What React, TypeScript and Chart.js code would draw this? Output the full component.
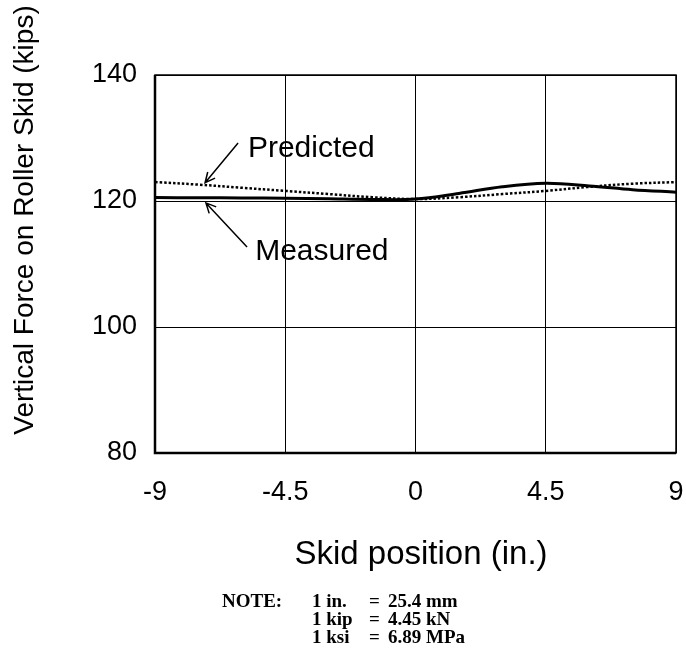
import React, { useEffect, useRef } from 'react';
import { Chart, registerables } from 'chart.js';
Chart.register(...registerables);

const positions = [-9, -7.5, -6, -4.5, -3, -1.5, 0, 1.5, 3, 4.5, 6, 7.5, 9];
const measured = [120.55, 120.52, 120.48, 120.45, 120.35, 120.25, 120.3, 121.2, 122.25, 122.8, 122.4, 121.8, 121.4];
const predicted = [123.0, 122.6, 122.1, 121.6, 121.1, 120.6, 120.3, 120.6, 121.1, 121.6, 122.25, 122.75, 123.0];
const xTickValues = [-9, -4.5, 0, 4.5, 9];
const yTickValues = [80, 100, 120, 140];
const xTitle = 'Skid position (in.)';
const yTitle = 'Vertical Force on Roller Skid (kips)';
const predictedLabel = 'Predicted';
const measuredLabel = 'Measured';
const noteHead = 'NOTE:';
const noteLines = [
  ['1 in.', '=', '25.4 mm'],
  ['1 kip', '=', '4.45 kN'],
  ['1 ksi', '=', '6.89 MPa'],
];

const SANS = '"Liberation Sans", Arial, Helvetica, sans-serif';
const SERIF = '"Liberation Serif", "Times New Roman", serif';

function arrow(ctx: CanvasRenderingContext2D, x0: number, y0: number, x1: number, y1: number) {
  ctx.beginPath();
  ctx.moveTo(x0, y0);
  ctx.lineTo(x1, y1);
  const a = Math.atan2(y1 - y0, x1 - x0);
  const L = 11;
  const s = 0.45;
  ctx.moveTo(x1 - L * Math.cos(a - s), y1 - L * Math.sin(a - s));
  ctx.lineTo(x1, y1);
  ctx.lineTo(x1 - L * Math.cos(a + s), y1 - L * Math.sin(a + s));
  ctx.stroke();
}

const decor = {
  id: 'decor',
  afterDraw(chart: any) {
    const ctx: CanvasRenderingContext2D = chart.ctx;
    const { left, right, top, bottom } = chart.chartArea;
    const xs = chart.scales.x;
    const ys = chart.scales.y;
    ctx.save();
    // frame
    ctx.strokeStyle = '#000';
    ctx.lineWidth = 1.5;
    ctx.strokeRect(left, top, right - left, bottom - top);
    ctx.lineWidth = 2.5;
    ctx.beginPath();
    ctx.moveTo(left, top);
    ctx.lineTo(left, bottom);
    ctx.lineTo(right, bottom);
    ctx.stroke();
    ctx.fillStyle = '#000';
    // x title
    ctx.font = `33px ${SANS}`;
    ctx.textAlign = 'center';
    ctx.textBaseline = 'alphabetic';
    ctx.fillText(xTitle, 421, 564);
    // y title
    ctx.save();
    ctx.translate(33, 220);
    ctx.rotate(-Math.PI / 2);
    ctx.font = `28px ${SANS}`;
    ctx.fillText(yTitle, 0, 0);
    ctx.restore();
    // annotations
    ctx.font = `30px ${SANS}`;
    ctx.textAlign = 'left';
    ctx.fillText(predictedLabel, xs.getPixelForValue(-5.79), ys.getPixelForValue(127.0));
    ctx.fillText(measuredLabel, xs.getPixelForValue(-5.54), ys.getPixelForValue(110.6));
    ctx.lineWidth = 1.5;
    arrow(ctx, xs.getPixelForValue(-6.13), ys.getPixelForValue(129.2), xs.getPixelForValue(-7.27), ys.getPixelForValue(122.9));
    arrow(ctx, xs.getPixelForValue(-5.82), ys.getPixelForValue(112.7), xs.getPixelForValue(-7.24), ys.getPixelForValue(119.7));
    // note
    ctx.font = `bold 19px ${SERIF}`;
    ctx.textAlign = 'left';
    ctx.fillText(noteHead, 222, 607);
    noteLines.forEach((row, i) => {
      const y = 607 + i * 18;
      ctx.fillText(row[0], 312, y);
      ctx.fillText(row[1], 369, y);
      ctx.fillText(row[2], 388, y);
    });
    ctx.restore();
  },
};

export default function App() {
  const ref = useRef<HTMLCanvasElement>(null);
  useEffect(() => {
    if (!ref.current) return;
    const chart = new Chart(ref.current, {
      type: 'line',
      data: {
        datasets: [
          {
            label: measuredLabel,
            data: positions.map((x, i) => ({ x, y: measured[i] })),
            borderColor: '#000',
            borderWidth: 3,
            pointRadius: 0,
            tension: 0.35,
            fill: false,
          },
          {
            label: predictedLabel,
            data: positions.map((x, i) => ({ x, y: predicted[i] })),
            borderColor: '#000',
            borderWidth: 2.5,
            borderDash: [2.5, 2],
            pointRadius: 0,
            tension: 0.35,
            fill: false,
          },
        ],
      },
      options: {
        responsive: false,
        animation: false,
        layout: { padding: { top: 75, right: 10, left: 0, bottom: 0 } },
        plugins: { legend: { display: false }, tooltip: { enabled: false } },
        scales: {
          x: {
            type: 'linear',
            min: -9,
            max: 9,
            afterBuildTicks: (s: any) => {
              s.ticks = xTickValues.map((v) => ({ value: v }));
            },
            afterFit: (s: any) => {
              s.height = 211;
              s.paddingLeft = 0;
              s.paddingRight = 0;
            },
            ticks: {
              font: { family: SANS, size: 27 },
              color: '#000',
              padding: 23,
              maxRotation: 0,
              autoSkip: false,
              callback: (v: any) => String(v),
            },
            grid: { color: '#000', lineWidth: 1, drawTicks: false },
            border: { display: false },
          },
          y: {
            min: 80,
            max: 140,
            afterBuildTicks: (s: any) => {
              s.ticks = yTickValues.map((v) => ({ value: v }));
            },
            afterFit: (s: any) => {
              s.width = 155;
              s.paddingTop = 0;
              s.paddingBottom = 0;
            },
            ticks: {
              font: { family: SANS, size: 27 },
              color: '#000',
              padding: 18,
              callback: (v: any) => String(v),
            },
            grid: { color: '#000', lineWidth: 1, drawTicks: false },
            border: { display: false },
          },
        },
      },
      plugins: [decor],
    });
    return () => chart.destroy();
  }, []);
  return (
    <div style={{ position: 'fixed', left: 0, top: 0, width: 686, height: 664, background: '#fff' }}>
      <canvas ref={ref} width={686} height={664} style={{ display: 'block' }} />
    </div>
  );
}
